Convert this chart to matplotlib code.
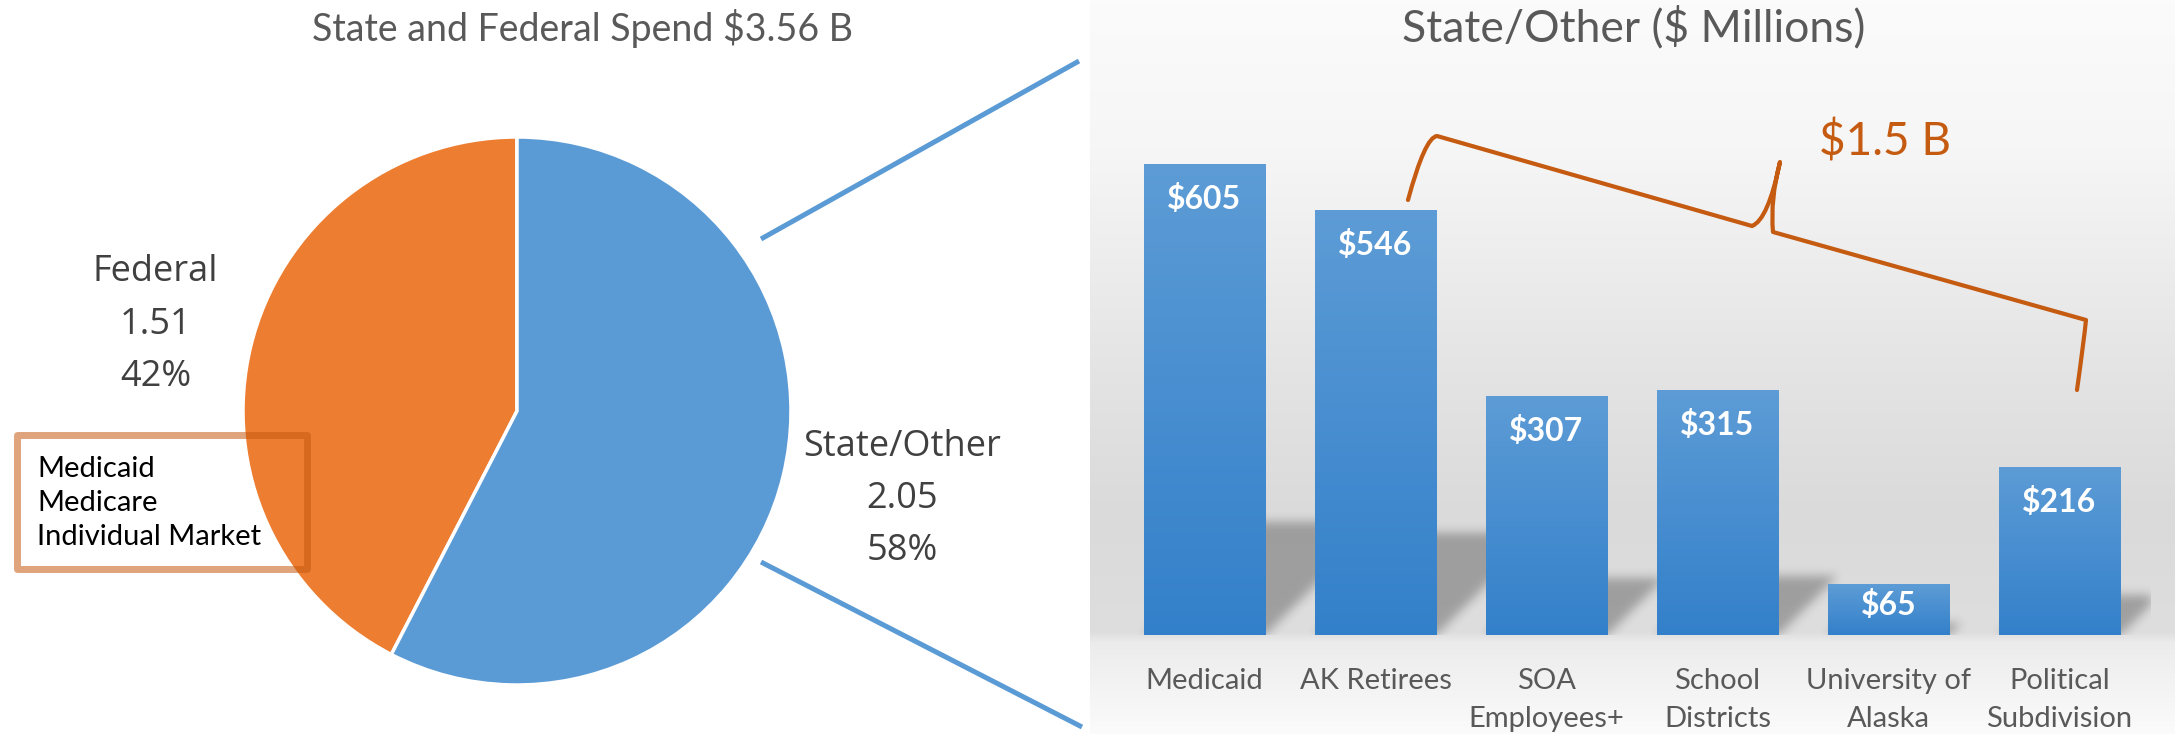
import numpy as np
import matplotlib
matplotlib.use("Agg")
import matplotlib.pyplot as plt
from matplotlib.colors import to_rgb
from matplotlib.patches import Rectangle, PathPatch
from matplotlib.path import Path
from matplotlib.lines import Line2D

# pie data ($ billions)
pie_labels = ["Federal", "State/Other"]
pie_values = [1.51, 2.05]
pie_colors = ["#ED7D31", "#5B9BD5"]
pie_title = "State and Federal Spend $3.56 B"
federal_programs = ["Medicaid", "Medicare", "Individual Market"]

# bar data ($ millions)
bar_categories = ["Medicaid", "AK Retirees", "SOA\nEmployees+", "School\nDistricts",
                  "University of\nAlaska", "Political\nSubdivision"]
bar_values = [605, 546, 307, 315, 65, 216]
bar_title = "State/Other ($ Millions)"
bracket_label = "$1.5 B"

W, H = 2175, 734
fig = plt.figure(figsize=(W / 100, H / 100), dpi=100)


def fx(px):
    return px / W


def fy(py):
    return 1 - py / H


def blur(img, sigma):
    r = int(3 * sigma)
    k = np.exp(-0.5 * (np.arange(-r, r + 1) / sigma) ** 2)
    k /= k.sum()
    img = np.apply_along_axis(lambda m: np.convolve(m, k, mode="same"), 0, img)
    img = np.apply_along_axis(lambda m: np.convolve(m, k, mode="same"), 1, img)
    return img


# ---- grey gradient panel behind the bar chart
bg = fig.add_axes([fx(1090), 0, 1 - fx(1090), 1])
stops = [0.0, 0.2, 0.5, 0.70, 0.862, 0.876, 1.0]
greys = [0.985, 0.965, 0.895, 0.855, 0.87, 0.925, 0.985]
t = np.linspace(0, 1, 800)
g = np.interp(t, stops, greys)
bg.imshow(np.repeat(g[:, None], 2, axis=1)[:, :, None] * np.ones(3), aspect="auto",
          extent=[0, 1, 1, 0], interpolation="bilinear")
bg.set_xlim(0, 1)
bg.set_ylim(1, 0)
bg.axis("off")

# ---- pie
pcx, pcy, pr = 517, 411, 274
axp = fig.add_axes([fx(pcx - pr), fy(pcy + pr), fx(2 * pr), 2 * pr / H])
axp.pie(pie_values, colors=pie_colors, startangle=90, counterclock=True, radius=1,
        wedgeprops=dict(edgecolor="white", linewidth=2.5))
axp.set_xlim(-1, 1)
axp.set_ylim(-1, 1)
total = sum(pie_values)
label_pos = [(-1.32, 0.315), (1.405, -0.322)]
for name, val, (lx, ly) in zip(pie_labels, pie_values, label_pos):
    axp.text(lx, ly, f"{name}\n{val:.2f}\n{val / total * 100:.0f}%", ha="center", va="center",
             fontsize=26, color="#404040", family="Open Sans", linespacing=1.6)
fig.text(fx(582), fy(28), pie_title, ha="center", va="center", fontsize=27,
         color="#595959", family="Lato")

# box listing federal programs
fig.add_artist(Rectangle((fx(16.5), fy(569)), fx(290), 134 / H, transform=fig.transFigure,
                         facecolor="none", edgecolor="#C55A11", alpha=0.55, lw=5,
                         joinstyle="round"))
fig.text(fx(37), fy(503), "\n".join(federal_programs), ha="left", va="center", fontsize=21,
         color="black", family="Lato", linespacing=1.4)

# connector lines
for (x0, y0), (x1, y1) in [((761, 239), (1079, 61)), ((761, 562), (1082, 727))]:
    fig.add_artist(Line2D([fx(x0), fx(x1)], [fy(y0), fy(y1)], transform=fig.transFigure,
                          color="#5B9BD5", lw=3.6, solid_capstyle="butt"))

# ---- bar chart
ax_l, ax_r, ax_b, ax_t = 1119, 2145, 635, 635 - 700 * 0.779
ax = fig.add_axes([fx(ax_l), fy(ax_b), fx(ax_r - ax_l), (ax_b - ax_t) / H])
ax.patch.set_alpha(0)
x = np.arange(len(bar_values))
hw = 0.355
ppx = (ax_r - ax_l) / 6.0
ppy = (ax_b - ax_t) / 700.0

# soft perspective shadows cast behind bars
sx0, sx1 = -0.5, (2151 - 1204.5) / ppx
nx, ny = int((sx1 - sx0) * ppx), int(700 * ppy)
gx = sx0 + (np.arange(nx) + 0.5) / ppx
gy = (np.arange(ny) + 0.5) / ppy
XX, YY = np.meshgrid(gx, gy)
pts = np.column_stack([XX.ravel(), YY.ravel()])
mask = np.zeros(XX.shape)
for c, v in zip(x, bar_values):
    h = 0.24 * v
    s = h * ppy / ppx
    poly = Path([(c - hw, 0), (c + hw, 0), (c + hw + s, h), (c - hw + s, h)])
    mask = np.maximum(mask, poly.contains_points(pts).reshape(XX.shape))
mask = blur(mask, 5)
rgba = np.zeros((ny, nx, 4))
rgba[..., 3] = 0.28 * mask
ax.imshow(rgba, extent=[sx0, sx1, 0, 700], origin="lower", aspect="auto",
          interpolation="bilinear", zorder=1, clip_on=False)

bars = ax.bar(x, bar_values, width=2 * hw, color="#4A90D2", zorder=2)
top_c = np.array(to_rgb("#5D9CD6"))
bot_c = np.array(to_rgb("#3380CA"))
grad = np.linspace(0, 1, 256)[:, None, None] * (top_c - bot_c) + bot_c
for b, c, v in zip(bars, x, bar_values):
    im = ax.imshow(grad, extent=[c - hw, c + hw, 0, v], origin="lower", aspect="auto",
                   interpolation="bilinear", zorder=3)
    im.set_clip_path(b)
    off = min(35, 0.4 * v * ppy) / ppy
    ax.text(c, v - off, f"${v}", ha="center", va="center", color="white",
            fontsize=23, fontweight="bold", family="Lato", zorder=4)

ax.set_xlim(-0.5, 5.5)
ax.set_ylim(0, 700)
ax.set_xticks(x)
ax.set_xticklabels(bar_categories, fontsize=21, color="#595959", family="Lato",
                   linespacing=1.55)
ax.tick_params(axis="x", length=0, pad=24)
ax.set_yticks([])
for sp in ax.spines.values():
    sp.set_visible(False)


# bracket over the last five bars
def px2d(px, py):
    return ((px - 1204.5) / ppx, (ax_b - py) / ppy)


verts = [px2d(1408, 200), px2d(1425, 137), px2d(1437, 136),
         px2d(1752, 226),
         px2d(1768, 220), px2d(1780, 162),
         px2d(1770, 200), px2d(1773, 232),
         px2d(2086, 320),
         px2d(2084, 340), px2d(2077, 390)]
codes = [Path.MOVETO, Path.CURVE3, Path.CURVE3, Path.LINETO, Path.CURVE3, Path.CURVE3,
         Path.CURVE3, Path.CURVE3, Path.LINETO, Path.CURVE3, Path.CURVE3]
ax.add_patch(PathPatch(Path(verts, codes), facecolor="none", edgecolor="#C55A11", lw=3,
                       clip_on=False, zorder=5, capstyle="round", joinstyle="round"))
bx, by = px2d(1885, 142)
ax.text(bx, by, bracket_label, ha="center", va="center", fontsize=33, color="#C55A11",
        family="Lato")

fig.text(fx(1634), fy(28), bar_title, ha="center", va="center", fontsize=32,
         color="#595959", family="Lato")

fig.savefig("out.png", dpi=100)
